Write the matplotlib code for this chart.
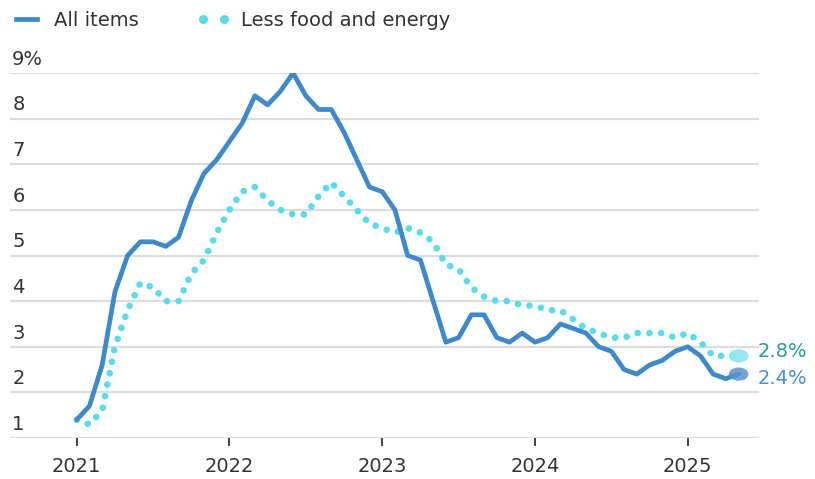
import numpy as np
import matplotlib.pyplot as plt
from matplotlib.lines import Line2D
from matplotlib.patches import Ellipse

# year-over-year change, monthly, Jan 2021 - May 2025
all_items = [1.4, 1.7, 2.6, 4.2, 5.0, 5.3, 5.3, 5.2, 5.4, 6.2, 6.8, 7.1,
             7.5, 7.9, 8.5, 8.3, 8.6, 9.0, 8.5, 8.2, 8.2, 7.7, 7.1, 6.5,
             6.4, 6.0, 5.0, 4.9, 4.0, 3.1, 3.2, 3.7, 3.7, 3.2, 3.1, 3.3,
             3.1, 3.2, 3.5, 3.4, 3.3, 3.0, 2.9, 2.5, 2.4, 2.6, 2.7, 2.9,
             3.0, 2.8, 2.4, 2.3, 2.4]
core = [1.4, 1.3, 1.6, 3.0, 3.8, 4.4, 4.3, 4.0, 4.0, 4.6, 4.9, 5.5,
        6.0, 6.4, 6.5, 6.2, 6.0, 5.9, 5.9, 6.3, 6.6, 6.3, 6.0, 5.7,
        5.6, 5.5, 5.6, 5.5, 5.3, 4.8, 4.7, 4.3, 4.1, 4.0, 4.0, 3.9,
        3.9, 3.8, 3.8, 3.6, 3.4, 3.3, 3.2, 3.2, 3.3, 3.3, 3.3, 3.2,
        3.3, 3.1, 2.8, 2.8, 2.8]
years = ['2021', '2022', '2023', '2024', '2025']
y_ticks = [1, 2, 3, 4, 5, 6, 7, 8, 9]

BLUE = '#3e89cb'
CYAN = '#5adbe9'
TEXT = '#333333'

months = np.arange(len(all_items))

fig = plt.figure(figsize=(8.15, 4.79), dpi=100)
ax = fig.add_axes([10/815, 41/479, 749/815, 365/479])

for v in y_ticks:
    ax.axhline(v, color='#dcdcdc', lw=1.6, zorder=0)
    lab = '%d%%' % v if v == y_ticks[-1] else str(v)
    ax.annotate(lab, xy=(0.003, v), xycoords=('axes fraction', 'data'),
                xytext=(0, 3), textcoords='offset points',
                ha='left', va='bottom', fontsize=14, color=TEXT)

ax.plot(months, core, color=CYAN, lw=4.8, dashes=(0.01, 1.75),
        dash_capstyle='round', zorder=2)
ax.plot(months, all_items, color=BLUE, lw=3.4, solid_joinstyle='round',
        solid_capstyle='round', zorder=3)

# end markers (stretched circles like the original)
ax.add_patch(Ellipse((months[-1], core[-1]), 1.55, 0.29, color='#8de6ef',
                     alpha=0.9, zorder=4, lw=0))
ax.add_patch(Ellipse((months[-1], all_items[-1]), 1.55, 0.29, color='#5b92cc',
                     alpha=0.85, zorder=4, lw=0))
ax.annotate('%.1f%%' % core[-1], xy=(months[-1], core[-1]),
            xytext=(14, 3), textcoords='offset points', ha='left',
            va='center', fontsize=14, color='#2a9a9c')
ax.annotate('%.1f%%' % all_items[-1], xy=(months[-1], all_items[-1]),
            xytext=(14, -3), textcoords='offset points', ha='left',
            va='center', fontsize=14, color='#4a8fd0')

ax.set_xlim(-5.24, 53.6)
ax.set_ylim(1, 9)
ax.set_xticks(np.arange(len(years)) * 12)
ax.set_xticklabels(years)
ax.set_yticks([])
ax.tick_params(axis='x', length=6, width=1.3, color=TEXT, pad=8,
               labelsize=14, labelcolor=TEXT)
for s in ax.spines.values():
    s.set_visible(False)

handles = [Line2D([], [], color=BLUE, lw=3.4),
           Line2D([], [], color=CYAN, ls='none', marker='o', ms=6.5,
                  markeredgewidth=0)]
fig.legend(handles, ['All items', 'Less food and energy'], ncol=2,
           loc='upper left', bbox_to_anchor=(0.0074, 0.985), frameon=False,
           fontsize=14, labelcolor=TEXT, handlelength=1.7, numpoints=2,
           handletextpad=0.55, columnspacing=3.0, borderpad=0.2,
           borderaxespad=0)

fig.savefig('out.png', dpi=100)
